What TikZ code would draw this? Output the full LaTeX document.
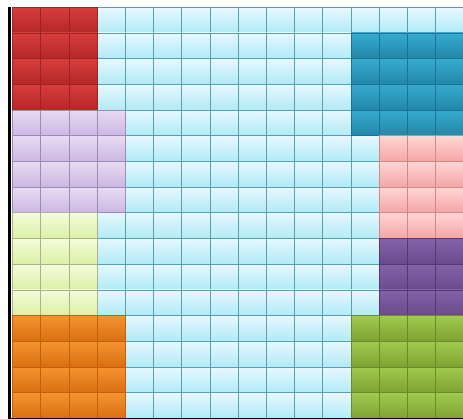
\documentclass[tikz,border=0pt]{standalone}
\definecolor{skytop}{HTML}{E6F8FF}
\definecolor{skybot}{HTML}{B0EAF6}
\definecolor{skyline}{HTML}{5B9FAD}
\definecolor{redtop}{HTML}{D93C3C}
\definecolor{redbot}{HTML}{B22828}
\definecolor{redline}{HTML}{9C2323}
\definecolor{tealtop}{HTML}{35ABCE}
\definecolor{tealbot}{HTML}{2386A9}
\definecolor{tealline}{HTML}{1D7293}
\definecolor{lavtop}{HTML}{E8DBF3}
\definecolor{lavbot}{HTML}{CBB6E2}
\definecolor{lavline}{HTML}{9E8BB3}
\definecolor{limetop}{HTML}{F4FBDB}
\definecolor{limebot}{HTML}{DBF0A4}
\definecolor{limeline}{HTML}{A9B192}
\definecolor{orgtop}{HTML}{F5932F}
\definecolor{orgbot}{HTML}{D86F10}
\definecolor{orgline}{HTML}{C2600E}
\definecolor{pinktop}{HTML}{FFD5D5}
\definecolor{pinkbot}{HTML}{F3A5A5}
\definecolor{pinkline}{HTML}{D38888}
\definecolor{grapetop}{HTML}{8462A8}
\definecolor{grapebot}{HTML}{6B498D}
\definecolor{grapeline}{HTML}{533873}
\definecolor{greentop}{HTML}{A1CA4E}
\definecolor{greenbot}{HTML}{7EA232}
\definecolor{greenline}{HTML}{6A8B27}
\tikzset{
  tile/.style={line width=0.9pt},
  sky/.style={tile,draw=skyline,top color=skytop,bottom color=skybot},
  redtile/.style={tile,draw=redline,top color=redtop,bottom color=redbot},
  tealtile/.style={tile,draw=tealline,top color=tealtop,bottom color=tealbot},
  lavtile/.style={tile,draw=lavline,top color=lavtop,bottom color=lavbot},
  limetile/.style={tile,draw=limeline,top color=limetop,bottom color=limebot},
  orgtile/.style={tile,draw=orgline,top color=orgtop,bottom color=orgbot},
  pinktile/.style={tile,draw=pinkline,top color=pinktop,bottom color=pinkbot},
  grapetile/.style={tile,draw=grapeline,top color=grapetop,bottom color=grapebot},
  greentile/.style={tile,draw=greenline,top color=greentop,bottom color=greenbot}}
% style, first col, last col, first row, last row
\newcommand\tileblock[5]{%
  \foreach \c in {#2,...,#3}
    \foreach \r in {#4,...,#5}
      \draw[#1] (\c,\r) rectangle ++(1,1);}
\begin{document}
\begin{tikzpicture}[x=1pt,y=-1pt]
  \useasboundingbox (0,0) rectangle (463,419);
  \fill[white] (0,0) rectangle (463,419);
  \begin{scope}[shift={(12.7,7.3)},x=28.2pt,y=-25.7pt]
    % background grid
    \tileblock{sky}{0}{15}{0}{15}
    % coloured blocks
    \tileblock{redtile}{0}{2}{0}{3}
    \tileblock{tealtile}{12}{15}{1}{4}
    \tileblock{lavtile}{0}{3}{4}{7}
    \tileblock{limetile}{0}{2}{8}{11}
    \tileblock{orgtile}{0}{3}{12}{15}
    \tileblock{pinktile}{13}{15}{5}{8}
    \tileblock{grapetile}{13}{15}{9}{11}
    \tileblock{greentile}{12}{15}{12}{15}
    % frame
    \draw[line width=3pt,black] (-0.1,0) -- (-0.1,16.05);
    \draw[line width=1.5pt,black!80!blue] (-0.1,16) -- (16,16);
  \end{scope}
\end{tikzpicture}
\end{document}
